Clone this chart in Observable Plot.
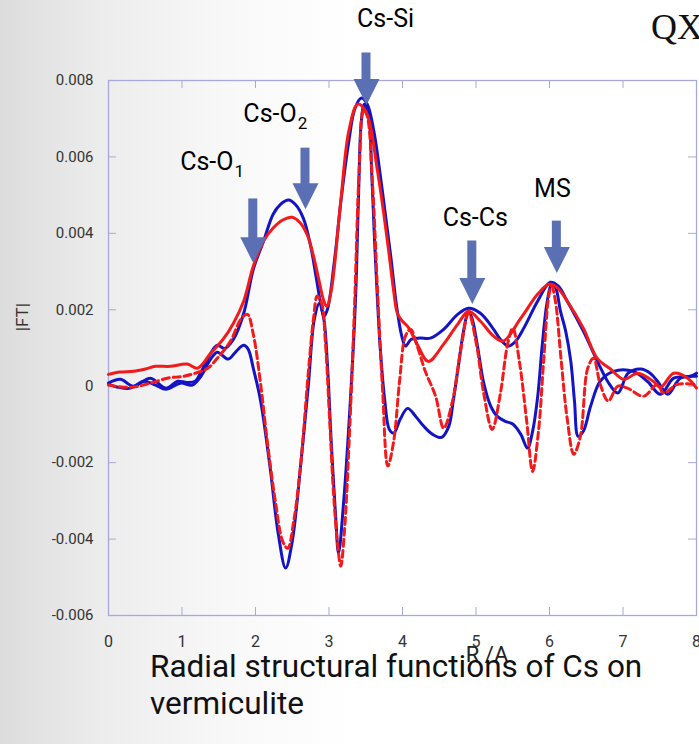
<!DOCTYPE html>
<html>
<head>
<meta charset="utf-8">
<script src="https://cdn.jsdelivr.net/npm/d3@7"></script>
<script src="https://cdn.jsdelivr.net/npm/@observablehq/plot@0.6"></script>
<style>
  html, body { margin: 0; padding: 0; }
  body {
    width: 699px; height: 744px; overflow: hidden; position: relative;
    background: linear-gradient(to right, #dcdcdc 0%, #ececec 14%, #f8f8f8 32%, #ffffff 50%);
    font-family: Roboto, "Liberation Sans", sans-serif;
  }
  #chart { position: absolute; left: 0; top: 0; }
  #corner { position: absolute; left: 651px; top: 6px; font: 36px "Liberation Serif", serif; color: #111; white-space: nowrap; }
  #caption { position: absolute; left: 150px; top: 648px; font-size: 31.5px; line-height: 37px; color: #111; white-space: nowrap; }
</style>
</head>
<body>
<div id="chart"></div>
<div id="corner">QX</div>
<div id="caption">Radial structural functions of Cs on<br>vermiculite</div>
<script>
// Tick values
const xTicks = [0, 1, 2, 3, 4, 5, 6, 7, 8];
const yTicks = [-0.006, -0.004, -0.002, 0, 0.002, 0.004, 0.006, 0.008];

// |FT| magnitude and imaginary part, sample 1 (blue) and sample 2 (red): [R, FT]
const blueMagnitude = [
  [0, 0.00008], [0.16, 0.00018], [0.34, 0], [0.57, 0.00021], [0.78, -0.00005], [0.94, 0.00013],
  [1.07, 0.0001], [1.18, 0.00013], [1.25, 0.00034], [1.39, 0.00086], [1.48, 0.00107], [1.58, 0.00099],
  [1.70, 0.00123], [1.84, 0.00191], [1.97, 0.00306], [2.11, 0.0038], [2.24, 0.0045], [2.34, 0.00476],
  [2.45, 0.00487], [2.54, 0.00476], [2.65, 0.0044], [2.75, 0.00367], [2.83, 0.0028], [2.88, 0.00223],
  [2.93, 0.00183], [2.98, 0.00202], [3.07, 0.00322], [3.17, 0.00497], [3.27, 0.00641], [3.35, 0.00725],
  [3.44, 0.00754], [3.52, 0.00738], [3.61, 0.00668], [3.69, 0.00563], [3.77, 0.00445], [3.84, 0.0034],
  [3.92, 0.00209], [3.99, 0.00131], [4.04, 0.00105], [4.12, 0.00123], [4.24, 0.00126], [4.38, 0.00126],
  [4.56, 0.00149], [4.75, 0.00188], [4.90, 0.00204], [5.06, 0.00191], [5.24, 0.00149], [5.33, 0.00123],
  [5.44, 0.00105], [5.54, 0.00118], [5.65, 0.00152], [5.84, 0.00223], [6.01, 0.00272], [6.12, 0.00262],
  [6.24, 0.00223], [6.46, 0.00144], [6.67, 0.00058], [6.79, 0.00013], [6.93, -0.00018], [7.07, 0.00034],
  [7.24, 0.00045], [7.37, 0.00034], [7.47, 0.00013], [7.61, -0.00021], [7.78, 0.00021], [8.0, 0.00026]
];
const blueImaginary = [
  [0, 0.00005], [0.14, -0.00003], [0.30, -0.00005], [0.48, 0.00013], [0.64, 0.00003], [0.78, -0.00008],
  [0.98, 0.00008], [1.14, 0.00003], [1.25, 0.00024], [1.39, 0.00071], [1.48, 0.00089], [1.63, 0.00071],
  [1.74, 0.00092], [1.84, 0.00107], [1.90, 0.00097], [1.97, 0.00047], [2.07, -0.00039], [2.20, -0.00215],
  [2.31, -0.00387], [2.41, -0.00476], [2.50, -0.00406], [2.61, -0.00215], [2.72, 0.00005], [2.80, 0.00175],
  [2.87, 0.00217], [2.93, 0.00175], [2.98, 0.00052], [3.03, -0.00144], [3.09, -0.0034], [3.13, -0.00437],
  [3.20, -0.00301], [3.29, -0.00039], [3.36, 0.00223], [3.40, 0.00484], [3.44, 0.00694], [3.48, 0.00738],
  [3.54, 0.00707], [3.58, 0.00563], [3.62, 0.0038], [3.66, 0.00223], [3.70, 0.00092], [3.76, -0.00039],
  [3.82, -0.00113], [3.88, -0.00123], [3.97, -0.00086], [4.07, -0.00058], [4.18, -0.00079], [4.29, -0.00105],
  [4.41, -0.00126], [4.53, -0.00134], [4.63, -0.00105], [4.69, -0.00039], [4.76, 0.00052], [4.83, 0.00144],
  [4.90, 0.00196], [4.95, 0.00175], [5.02, 0.00105], [5.10, 0.00013], [5.20, -0.00052], [5.29, -0.00079],
  [5.40, -0.00092], [5.50, -0.00099], [5.61, -0.00126], [5.70, -0.00162], [5.77, -0.00118], [5.84, -0.00026],
  [5.90, 0.00105], [5.97, 0.00223], [6.03, 0.00267], [6.08, 0.00259], [6.15, 0.00196], [6.22, 0.00144],
  [6.29, 0.00065], [6.34, -0.00039], [6.39, -0.00131], [6.46, -0.00118], [6.56, -0.00052], [6.69, 0.00013],
  [6.87, 0.00039], [7.14, 0.00039], [7.33, 0.00013], [7.51, -0.00021], [7.69, 0.00021], [7.92, 0.00026],
  [8.0, 0.00034]
];
const redMagnitude = [
  [0, 0.00031], [0.16, 0.00037], [0.34, 0.00039], [0.50, 0.00045], [0.64, 0.00052], [0.84, 0.00052],
  [1.07, 0.00058], [1.21, 0.00047], [1.39, 0.00086], [1.56, 0.00123], [1.70, 0.00165], [1.84, 0.00223],
  [1.97, 0.00314], [2.11, 0.0038], [2.24, 0.00414], [2.37, 0.00435], [2.50, 0.00442], [2.61, 0.00427],
  [2.71, 0.00393], [2.79, 0.0034], [2.86, 0.0028], [2.93, 0.00223], [2.97, 0.00209], [3.03, 0.00249],
  [3.16, 0.00484], [3.27, 0.00668], [3.39, 0.00738], [3.51, 0.00715], [3.66, 0.00563], [3.80, 0.00372],
  [3.88, 0.00249], [3.93, 0.00191], [4.0, 0.0017], [4.08, 0.00154], [4.20, 0.0011], [4.35, 0.00065],
  [4.56, 0.0011], [4.75, 0.00162], [4.90, 0.00196], [5.06, 0.0017], [5.24, 0.00131], [5.37, 0.00118],
  [5.61, 0.00178], [5.84, 0.00241], [5.99, 0.00267], [6.10, 0.00259], [6.24, 0.00223], [6.46, 0.00152],
  [6.65, 0.00073], [6.83, 0.00045], [7.01, 0.00018], [7.20, 0.00034], [7.41, 0.00013], [7.51, -0.00003],
  [7.69, 0.00034], [7.88, 0.00021], [8.0, -0.00005]
];
const redImaginary = [
  [0, 0.00003], [0.30, -0.00003], [0.57, 0.00008], [0.80, 0.00021], [1.02, 0.00026], [1.18, 0.00034],
  [1.35, 0.00047], [1.48, 0.00073], [1.66, 0.00118], [1.80, 0.00175], [1.89, 0.00188], [1.97, 0.00136],
  [2.07, 0.00005], [2.16, -0.00144], [2.27, -0.00301], [2.37, -0.00406], [2.44, -0.00424], [2.52, -0.00353],
  [2.61, -0.00215], [2.72, 0.00039], [2.79, 0.00178], [2.84, 0.00236], [2.90, 0.00217], [2.95, 0.00118],
  [3.01, -0.00092], [3.06, -0.00275], [3.12, -0.00419], [3.16, -0.00471], [3.21, -0.0038], [3.28, -0.00118],
  [3.35, 0.00223], [3.41, 0.00563], [3.47, 0.00725], [3.52, 0.00707], [3.59, 0.00537], [3.66, 0.00249],
  [3.73, -0.00013], [3.80, -0.00209], [3.88, -0.00144], [3.96, 0.00013], [4.04, 0.00131], [4.11, 0.00149],
  [4.20, 0.00105], [4.31, 0.00039], [4.45, -0.00026], [4.56, -0.0011], [4.68, -0.00039], [4.79, 0.00092],
  [4.90, 0.00191], [5.01, 0.00105], [5.10, -0.00013], [5.22, -0.00113], [5.33, -0.00021], [5.43, 0.0011],
  [5.50, 0.00152], [5.59, 0.00065], [5.69, -0.00092], [5.77, -0.00223], [5.85, -0.00118], [5.92, 0.00065],
  [5.99, 0.00236], [6.03, 0.00262], [6.08, 0.00223], [6.16, 0.00065], [6.24, -0.00084], [6.33, -0.00178],
  [6.42, -0.00131], [6.52, 0.00047], [6.60, 0.00073], [6.69, 0.00005], [6.80, -0.00039], [6.93, 0],
  [7.06, -0.00005], [7.28, -0.00026], [7.47, 0.00005], [7.55, -0.00018], [7.74, 0.00005], [7.96, 0.00005]
];

// Peak assignments: label, subscript, arrow position and label position
const peakNames = ["Cs-O", "Cs-O", "Cs-Si", "Cs-Cs", "MS"];
const peakSubscripts = ["1", "2", "", "", ""];
const arrowR = [1.97, 2.68, 3.51, 4.95, 6.10];
const arrowTopFT = [0.0049, 0.00623, 0.00872, 0.0038, 0.00432];
const arrowTipFT = [0.00322, 0.00463, 0.00736, 0.00215, 0.00296];
const labelR = [1.70, 2.56, 3.77, 4.99, 6.04];
const labelFT = [0.00586, 0.00712, 0.00961, 0.0044, 0.00516];

const peaks = peakNames.map((name, i) => ({
  name, sub: peakSubscripts[i], R: arrowR[i], top: arrowTopFT[i], tip: arrowTipFT[i],
  labelR: labelR[i], labelFT: labelFT[i]
}));

const blue = "#1414c4";
const red = "#f21a1a";
const arrowColor = "#5b6fb4";
const frameColor = "#a8a8da";

// Filled, down-pointing arrow head whose tip sits on the data point
const arrowHead = {
  draw(context, size) {
    const r = Math.sqrt(size / Math.PI);
    context.moveTo(-r, -2 * r);
    context.lineTo(r, -2 * r);
    context.lineTo(0, 0);
    context.closePath();
  }
};

const marginTop = 80, marginBottom = 129, marginLeft = 108, marginRight = 3;
const width = 699, height = 744;
const innerW = width - marginLeft - marginRight;
const innerH = height - marginTop - marginBottom;
const tickLen = 8;

const line = (data, stroke, extra = {}) =>
  Plot.line(data, {x: d => d[0], y: d => d[1], stroke, strokeWidth: 3, curve: "catmull-rom", ...extra});

const chart = Plot.plot({
  width, height, marginTop, marginBottom, marginLeft, marginRight,
  x: {domain: [0, 8], label: null},
  y: {domain: [-0.006, 0.008], label: null},
  style: {background: "transparent", color: "#333", fontFamily: "Roboto, sans-serif", overflow: "visible"},
  marks: [
    Plot.frame({stroke: frameColor, strokeWidth: 1.3}),
    Plot.tickX(xTicks, {x: d => d, stroke: frameColor, insetTop: innerH - tickLen}),
    Plot.tickX(xTicks, {x: d => d, stroke: frameColor, insetBottom: innerH - tickLen}),
    Plot.tickY(yTicks, {y: d => d, stroke: frameColor, insetRight: innerW - tickLen}),
    Plot.tickY(yTicks, {y: d => d, stroke: frameColor, insetLeft: innerW - tickLen}),
    Plot.axisX({ticks: xTicks, tickSize: 0, tickPadding: 20, fontSize: 16, label: null, tickFormat: d => String(d)}),
    Plot.axisY({ticks: yTicks, tickSize: 0, tickPadding: 15, fontSize: 15, label: null,
      tickFormat: d => d === 0 ? "0" : d.toFixed(3)}),
    Plot.text(["|FT|"], {frameAnchor: "left", y: () => 0.00144, dx: -86, rotate: -90, fontSize: 17, fill: "#333"}),
    Plot.text(["R /A"], {frameAnchor: "bottom", x: () => 5.15, dy: 46, fontSize: 22, fill: "#222"}),

    line(blueMagnitude, blue),
    line(blueImaginary, blue),
    line(redMagnitude, red),
    line(redImaginary, red, {strokeDasharray: "7,4"}),

    Plot.rect(peaks, {x1: "R", x2: "R", y1: "top", y2: "tip", fill: arrowColor,
      insetLeft: -4.5, insetRight: -4.5, insetBottom: 20}),
    Plot.dot(peaks, {x: "R", y: "tip", symbol: arrowHead, r: 13, fill: arrowColor, stroke: null}),

    Plot.text(peaks.filter(d => d.sub), {x: "labelR", y: "labelFT", text: "name", textAnchor: "end",
      fontSize: 25, fill: "#000"}),
    Plot.text(peaks.filter(d => d.sub), {x: "labelR", y: "labelFT", text: "sub", textAnchor: "start",
      dx: 1, dy: 9, fontSize: 17, fill: "#000"}),
    Plot.text(peaks.filter(d => !d.sub), {x: "labelR", y: "labelFT", text: "name", fontSize: 25, fill: "#000"})
  ]
});
document.getElementById("chart").append(chart);
</script>
</body>
</html>
